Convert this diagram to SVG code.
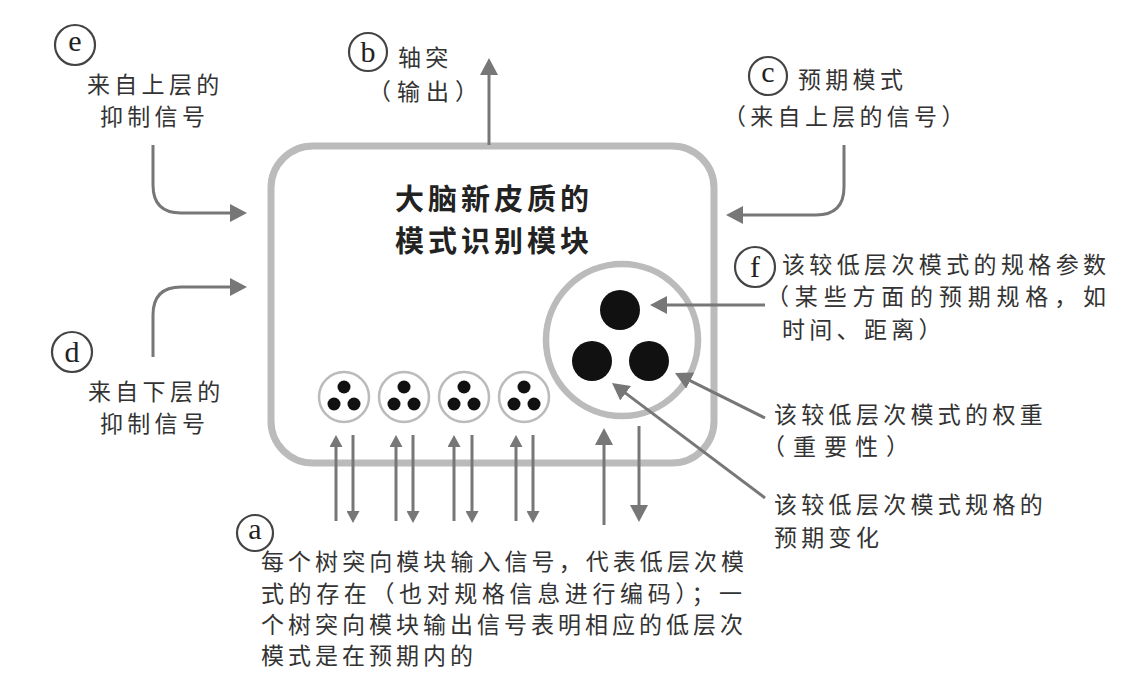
<svg xmlns="http://www.w3.org/2000/svg" width="1135" height="689" viewBox="0 0 1135 689">
<style>
.t{font-family:"Noto Sans CJK SC","Noto Sans CJK JP",sans-serif;font-size:23px;fill:#333;letter-spacing:4.3px}
.j{letter-spacing:0}
.title{font-family:"Noto Sans CJK SC","Noto Sans CJK JP",sans-serif;font-size:29px;font-weight:bold;fill:#222;letter-spacing:4px}
.lc{fill:none;stroke:#444;stroke-width:2.2}
.lt{font-family:"Liberation Serif","Times New Roman",serif;font-size:30px;fill:#222;text-anchor:middle}
.ar{fill:none;stroke:#777;stroke-width:3}
.big{marker-end:url(#mb)}
.sm{marker-end:url(#ms)}
.sub{fill:#fff;stroke:#bbb;stroke-width:2.5}
.dot{fill:#111}
</style>
<defs>
<marker id="mb" viewBox="0 0 17 18" markerWidth="17" markerHeight="18" markerUnits="userSpaceOnUse" refX="3" refY="9" orient="auto"><path d="M0,0 L17,9 L0,18 z" fill="#777"/></marker>
<marker id="ms" viewBox="0 0 12 13" markerWidth="12" markerHeight="13" markerUnits="userSpaceOnUse" refX="3" refY="6.5" orient="auto"><path d="M0,0 L12,6.5 L0,13 z" fill="#777"/></marker>
</defs>
<rect width="1135" height="689" fill="#fff"/>

<g id="module">
<rect x="271" y="146" width="443" height="317" rx="42" fill="none" stroke="#bbb" stroke-width="7"/>
<text class="title" x="395" y="210">大脑新皮质的</text>
<text class="title" x="395" y="252">模式识别模块</text>
</g>

<g id="sub1"><circle class="sub" cx="344" cy="397" r="25"/><circle class="dot" cx="344" cy="387" r="6.5"/><circle class="dot" cx="334" cy="404" r="6.5"/><circle class="dot" cx="354" cy="404" r="6.5"/></g>
<g id="sub2"><circle class="sub" cx="404" cy="397" r="25"/><circle class="dot" cx="404" cy="387" r="6.5"/><circle class="dot" cx="394" cy="404" r="6.5"/><circle class="dot" cx="414" cy="404" r="6.5"/></g>
<g id="sub3"><circle class="sub" cx="464" cy="397" r="25"/><circle class="dot" cx="464" cy="387" r="6.5"/><circle class="dot" cx="454" cy="404" r="6.5"/><circle class="dot" cx="474" cy="404" r="6.5"/></g>
<g id="sub4"><circle class="sub" cx="524" cy="397" r="25"/><circle class="dot" cx="524" cy="387" r="6.5"/><circle class="dot" cx="514" cy="404" r="6.5"/><circle class="dot" cx="534" cy="404" r="6.5"/></g>

<g id="param">
<circle cx="622" cy="340" r="76" fill="#fff" stroke="#bbb" stroke-width="6.5"/>
<circle class="dot" cx="620" cy="310" r="20"/>
<circle class="dot" cx="592" cy="361" r="20"/>
<circle class="dot" cx="649" cy="361" r="20"/>
</g>

<g id="label-e">
<circle class="lc" cx="75" cy="45" r="20"/><text class="lt" x="75" y="51">e</text>
<text class="t" x="87" y="93">来自上层的</text>
<text class="t" x="100" y="125">抑制信号</text>
</g>
<g id="label-d">
<circle class="lc" cx="72" cy="352" r="20"/><text class="lt" x="72" y="362">d</text>
<text class="t" x="88" y="400">来自下层的</text>
<text class="t" x="100" y="432">抑制信号</text>
</g>
<g id="label-b">
<circle class="lc" cx="368" cy="52" r="19"/><text class="lt" x="368" y="62">b</text>
<text class="t" x="398" y="66">轴突</text>
<text class="t" x="368" y="100" style="letter-spacing:6px">（输出）</text>
</g>
<g id="label-c">
<circle class="lc" cx="768" cy="76" r="19"/><text class="lt" x="768" y="82">c</text>
<text class="t" x="798" y="88">预期模式</text>
<text class="t" x="723" y="125">（来自上层的信号）</text>
</g>
<g id="label-f">
<circle class="lc" cx="755" cy="267" r="20"/><text class="lt" x="755" y="277">f</text>
<text class="t j" x="782" y="273" textLength="324" lengthAdjust="spacing">该较低层次模式的规格参数</text>
<text class="t j" x="766" y="305" textLength="340" lengthAdjust="spacing">（某些方面的预期规格，如</text>
<text class="t" x="782" y="338">时间、距离）</text>
</g>
<g id="label-weight">
<text class="t" x="774" y="423">该较低层次模式的权重</text>
<text class="t" x="762" y="455" style="letter-spacing:8px">（重要性）</text>
</g>
<g id="label-change">
<text class="t" x="774" y="513">该较低层次模式规格的</text>
<text class="t" x="774" y="546">预期变化</text>
</g>
<g id="label-a">
<circle class="lc" cx="255" cy="533" r="18"/><text class="lt" x="255" y="539">a</text>
<text class="t j" x="261" y="570" textLength="483" lengthAdjust="spacing">每个树突向模块输入信号，代表低层次模</text>
<text class="t j" x="261" y="602" textLength="481" lengthAdjust="spacing">式的存在（也对规格信息进行编码）；一</text>
<text class="t j" x="261" y="633" textLength="482" lengthAdjust="spacing">个树突向模块输出信号表明相应的低层次</text>
<text class="t" x="261" y="664" style="letter-spacing:4px">模式是在预期内的</text>
</g>

<g id="connectors">
<path class="ar big" d="M153,145 V185 Q153,213 181,213 H233"/>
<path class="ar big" d="M153,357 V315 Q153,287 181,287 H233"/>
<path class="ar big" d="M844,145 V187 Q844,215 816,215 H740"/>
<path class="ar big" d="M489,145 V72"/>
<path class="ar big" d="M765,305 H664"/>
<path class="ar big" d="M765,418 L687.5,379.3"/>
<path class="ar big" d="M765,498 L623.2,391.4"/>
<path class="ar big" d="M604,525 V442"/>
<path class="ar big" d="M639,426 V508"/>
<path class="ar sm" d="M336,521 V444"/>
<path class="ar sm" d="M353,435 V514"/>
<path class="ar sm" d="M396,521 V444"/>
<path class="ar sm" d="M413,435 V514"/>
<path class="ar sm" d="M454,521 V444"/>
<path class="ar sm" d="M472,435 V514"/>
<path class="ar sm" d="M516,521 V444"/>
<path class="ar sm" d="M533,435 V514"/>
</g>
</svg>
